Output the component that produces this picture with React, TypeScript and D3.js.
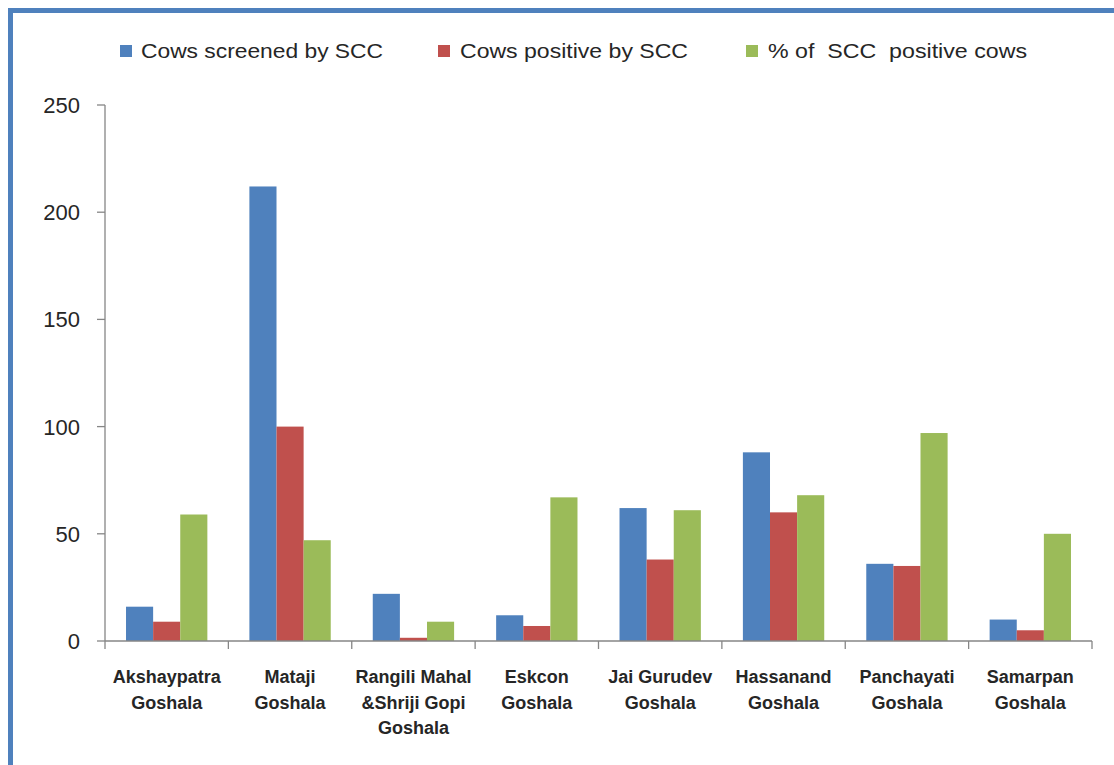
import React from "react";
import * as d3 from "d3";

// Goshala names, one entry per line of the axis label
const categories: string[][] = [
  ["Akshaypatra", "Goshala"],
  ["Mataji", "Goshala"],
  ["Rangili Mahal", "&Shriji Gopi", "Goshala"],
  ["Eskcon", "Goshala"],
  ["Jai Gurudev", "Goshala"],
  ["Hassanand", "Goshala"],
  ["Panchayati", "Goshala"],
  ["Samarpan", "Goshala"],
];

const seriesNames = [
  "Cows screened by SCC",
  "Cows positive by SCC",
  "% of  SCC  positive cows",
];

const cowsScreened = [16, 212, 22, 12, 62, 88, 36, 10];
const cowsPositive = [9, 100, 1.5, 7, 38, 60, 35, 5];
const percentPositive = [59, 47, 9, 67, 61, 68, 97, 50];

const yTicks = [0, 50, 100, 150, 200, 250];

const colors = ["#4f81bd", "#c0504d", "#9bbb59"];

const W = 1114;
const H = 765;
const plot = { left: 105, right: 1092, top: 105, bottom: 641 };

export default function App() {
  const series = [cowsScreened, cowsPositive, percentPositive];
  const keys = categories.map((c) => c.join(" "));

  const x = d3.scaleBand<string>().domain(keys).range([plot.left, plot.right]).paddingInner(0).paddingOuter(0);
  const bw = x.bandwidth();
  const barW = bw / (3 + 1.55);
  const inner = d3
    .scaleBand<number>()
    .domain([0, 1, 2])
    .range([(bw - 3 * barW) / 2, (bw + 3 * barW) / 2])
    .padding(0);
  const y = d3.scaleLinear().domain([0, 250]).range([plot.bottom, plot.top]);

  const legend = [
    { sq: 120, tx: 141, len: 242 },
    { sq: 438, tx: 460, len: 228 },
    { sq: 746, tx: 768, len: 259 },
  ];

  const boundaries = keys.map((k) => x(k) as number).concat([plot.right]);

  return (
    <svg
      width={W}
      height={H}
      style={{ position: "absolute", left: 0, top: 0, background: "#ffffff" }}
      fontFamily="'Liberation Sans', Arial, sans-serif"
    >
      <rect x={0} y={0} width={W} height={H} fill="#ffffff" />
      {/* frame */}
      <rect x={8} y={8} width={W - 8} height={5} fill="#4f81bd" />
      <rect x={8} y={8} width={5} height={H - 8} fill="#4f81bd" />

      {/* legend */}
      {legend.map((l, i) => (
        <g key={i}>
          <rect x={l.sq} y={45} width={12} height={12} fill={colors[i]} />
          <text
            x={l.tx}
            y={58}
            fontSize={21}
            fill="#262626"
            textLength={l.len}
            lengthAdjust="spacingAndGlyphs"
            style={{ whiteSpace: "pre" }}
          >
            {seriesNames[i]}
          </text>
        </g>
      ))}

      {/* bars */}
      {keys.map((k, ci) => (
        <g key={k} transform={`translate(${x(k)},0)`}>
          {series.map((s, si) => (
            <rect
              key={si}
              x={inner(si)}
              y={y(s[ci])}
              width={inner.bandwidth()}
              height={plot.bottom - y(s[ci])}
              fill={colors[si]}
            />
          ))}
        </g>
      ))}

      {/* y axis */}
      <line x1={plot.left} x2={plot.left} y1={plot.top} y2={plot.bottom} stroke="#868686" strokeWidth={1.3} />
      {yTicks.map((t) => (
        <g key={t}>
          <line x1={plot.left - 8} x2={plot.left} y1={y(t)} y2={y(t)} stroke="#868686" strokeWidth={1.3} />
          <text x={80} y={y(t)} dy="0.36em" textAnchor="end" fontSize={22} fill="#262626">
            {t}
          </text>
        </g>
      ))}

      {/* x axis */}
      <line x1={plot.left} x2={plot.right} y1={plot.bottom} y2={plot.bottom} stroke="#868686" strokeWidth={1.3} />
      {boundaries.map((bx, i) => (
        <line key={i} x1={bx} x2={bx} y1={plot.bottom} y2={plot.bottom + 8} stroke="#868686" strokeWidth={1.3} />
      ))}
      {categories.map((lines, ci) => (
        <text
          key={ci}
          x={(x(keys[ci]) as number) + bw / 2}
          y={683}
          textAnchor="middle"
          fontSize={18}
          fontWeight="bold"
          fill="#262626"
        >
          {lines.map((ln, li) => (
            <tspan key={li} x={(x(keys[ci]) as number) + bw / 2} dy={li === 0 ? 0 : 25.5}>
              {ln}
            </tspan>
          ))}
        </text>
      ))}
    </svg>
  );
}
